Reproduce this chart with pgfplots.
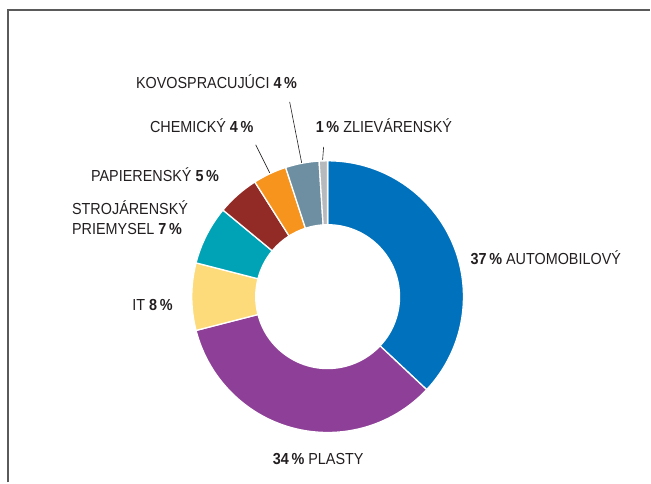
\documentclass[border=0pt]{standalone}
\usepackage{pgfplots}
\pgfplotsset{compat=1.18}
\usepackage{fontspec}
\setmainfont{Liberation Sans}[FakeStretch=0.9]
\definecolor{cA}{HTML}{0071BC}
\definecolor{cB}{HTML}{8E3F97}
\definecolor{cC}{HTML}{FDDA7A}
\definecolor{cD}{HTML}{00A3B5}
\definecolor{cE}{HTML}{922B26}
\definecolor{cF}{HTML}{F7941E}
\definecolor{cG}{HTML}{6E8FA1}
\definecolor{cH}{HTML}{B7BABC}
\definecolor{txt}{HTML}{231F20}
\definecolor{frame}{HTML}{5A5A5A}
\begin{document}
\begin{tikzpicture}
\begin{axis}[
  hide axis, scale only axis, width=651pt, height=483pt,
  xmin=0, xmax=651, ymin=0, ymax=483, clip=false,
]
\addplot[draw=none] coordinates {(0,0) (651,483)};
\xdef\cum{0}
\foreach \v/\c in {37/cA,34/cB,8/cC,7/cD,5/cE,4/cF,4/cG,1/cH} {
  \pgfmathsetmacro\a{90-\cum*3.6}
  \pgfmathsetmacro\b{90-(\cum+\v)*3.6}
  \pgfmathsetmacro\n{\cum+\v}
  \xdef\cum{\n}
  \edef\tmp{\noexpand\fill[\c, draw=white, line width=1.3pt, line join=round]
    ([shift={(\a:136)}]axis cs:328,186) arc[start angle=\a, end angle=\b, radius=136]
    -- ([shift={(\b:72)}]axis cs:328,186) arc[start angle=\b, end angle=\a, radius=72] -- cycle;}
  \tmp
}
% frame
\draw[frame, line width=1.5pt] (axis cs:8,0) -- (axis cs:8,473) -- (axis cs:651,473);
% leader lines
\draw[txt, line width=0.6pt] (axis cs:256,338) -- (axis cs:270,310);
\draw[txt, line width=0.6pt] (axis cs:290,381) -- (axis cs:302,320);
\draw[txt, line width=0.6pt] (axis cs:324,336) -- (axis cs:323,323);
% labels
\begin{scope}[every node/.style={inner sep=0pt, text=txt, font=\fontsize{16}{21}\selectfont}]
\node[anchor=base west] at (axis cs:136,394) {KOVOSPRACUJÚCI \textbf{4\,\%}};
\node[anchor=base west] at (axis cs:150,350) {CHEMICKÝ \textbf{4\,\%}};
\node[anchor=base west] at (axis cs:316,350) {\textbf{1\,\%} ZLIEVÁRENSKÝ};
\node[anchor=base west] at (axis cs:91,301) {PAPIERENSKÝ \textbf{5\,\%}};
\node[anchor=base west] at (axis cs:72,268) {STROJÁRENSKÝ};
\node[anchor=base west] at (axis cs:72,248) {PRIEMYSEL \textbf{7\,\%}};
\node[anchor=base east] at (axis cs:173,172) {IT \textbf{8\,\%}};
\node[anchor=base west] at (axis cs:471,218) {\textbf{37\,\%} AUTOMOBILOVÝ};
\node[anchor=base west] at (axis cs:273,18) {\textbf{34\,\%} PLASTY};
\end{scope}
\end{axis}
\end{tikzpicture}
\end{document}
